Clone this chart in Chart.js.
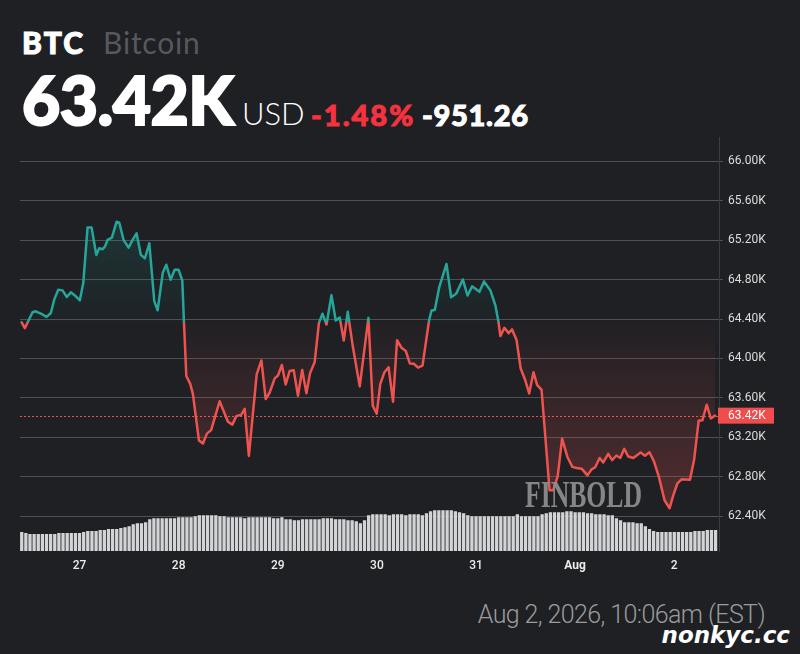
<!DOCTYPE html>
<html>
<head>
<meta charset="utf-8">
<script src="https://cdn.jsdelivr.net/npm/chart.js@4.4.1/dist/chart.umd.min.js"></script>
<style>
  html, body { margin: 0; padding: 0; background: #1e2024; }
  #page { position: relative; width: 800px; height: 654px; overflow: hidden; background: #1e2024; font-family: Lato, "Liberation Sans", sans-serif; }
  .t { position: absolute; line-height: 1; white-space: nowrap; }
  #sym { left: 22px; top: 27px; font-size: 30px; font-weight: 900; color: #ffffff; letter-spacing: 2px; -webkit-text-stroke: 1px #ffffff; }
  #name { left: 103px; top: 27px; font-size: 30px; font-weight: 400; color: #56585d; letter-spacing: 0.8px; }
  #price { left: 22px; top: 67px; font-size: 66px; font-weight: 900; color: #ffffff; letter-spacing: -0.5px; -webkit-text-stroke: 2px #ffffff; }
  #unit { left: 242px; top: 98px; font-size: 31px; font-weight: 300; color: #ffffff; }
  #chg { left: 311px; top: 100px; font-size: 29px; font-weight: 900; color: #f5323f; letter-spacing: 2px; -webkit-text-stroke: 1px #f5323f; }
  #abs { left: 422px; top: 100px; font-size: 29px; font-weight: 900; color: #ffffff; letter-spacing: 0.7px; -webkit-text-stroke: 1px #ffffff; }
  #chart-box { position: absolute; left: 0; top: 125px; width: 800px; height: 460px; }
  #finbold { left: 525px; top: 476px; font-family: "Liberation Serif", serif; font-size: 37px; font-weight: bold; color: rgba(140, 140, 140, 0.95); transform: scaleX(0.694); transform-origin: 0 0; }
  #stamp { right: 35px; top: 602px; font-family: Roboto, sans-serif; font-size: 25px; font-weight: 300; color: #9b9b9b; letter-spacing: -0.6px; }
  #site { right: 10px; top: 624px; font-family: "DejaVu Sans", sans-serif; font-size: 23px; font-weight: bold; font-style: italic; color: #ffffff; }
</style>
</head>
<body>
<div id="page">
  <div class="t" id="sym">BTC</div>
  <div class="t" id="name">Bitcoin</div>
  <div class="t" id="price">63.42K</div>
  <div class="t" id="unit">USD</div>
  <div class="t" id="chg">-1.48%</div>
  <div class="t" id="abs">-951.26</div>
  <div id="chart-box"><canvas id="btc-chart"></canvas></div>
  <div class="t" id="finbold">FINBOLD</div>
  <div class="t" id="stamp">Aug 2, 2026, 10:06am (EST)</div>
  <div class="t" id="site">nonkyc.cc</div>
</div>
<script>
"use strict";

// hours counted from Jul 27 00:00
var priceHours = [
  -14.05, -13.25, -12.43, -11.39, -10.59, -9.38, -8.0, -6.95, -6.13, -5.16,
  -4.12, -3.08, -2.11, -0.9, 0.07, 0.9, 1.94, 2.91, 4.05, 4.77,
  5.57, 6.13, 6.78, 7.83, 8.97, 9.62, 10.66, 11.87, 12.84, 13.81,
  14.85, 15.82, 16.89, 18.1, 18.9, 20.16, 21.01, 22.05, 23.02, 23.99,
  24.88, 25.27, 25.85, 26.82, 27.45, 28.91, 29.88, 30.84, 31.86, 33.92,
  35.93, 37.0, 37.97, 39.18, 39.98, 41.0, 42.89, 44.03, 45.07, 46.04,
  47.25, 48.05, 48.99, 49.91, 50.88, 51.85, 52.89, 53.91, 54.93, 55.8,
  56.94, 57.96, 58.81, 59.8, 60.99, 62.03, 63.0, 63.97, 64.94, 66.15,
  67.84, 69.95, 70.99, 71.96, 72.81, 73.78, 74.82, 75.91, 76.88, 77.95,
  78.99, 79.96, 80.93, 81.97, 83.04, 84.64, 85.22, 86.02, 87.11, 88.85,
  89.97, 91.18, 92.8, 93.94, 95.05, 96.82, 97.94, 99.47, 100.68, 101.41,
  101.89, 102.86, 103.9, 104.72, 105.81, 106.81, 107.83, 108.87, 109.91, 110.78,
  111.87, 113.81, 114.68, 115.77, 116.84, 118.12, 119.33, 120.35, 121.56, 122.97,
  123.99, 124.86, 125.92, 126.8, 128.01, 128.95, 129.99, 130.92, 131.89, 132.85,
  134.07, 135.86, 136.9, 137.99, 139.08, 140.24, 141.65, 142.86, 143.76, 144.77,
  145.74, 147.8, 148.82, 149.91, 150.83, 151.85, 152.84, 153.86
];

var priceValues = [
  64368, 64308, 64378, 64469, 64479, 64456, 64422, 64462, 64597, 64698,
  64691, 64624, 64671, 64631, 64590, 64765, 65330, 65330, 65051, 65118,
  65108, 65135, 65203, 65226, 65388, 65377, 65203, 65125, 65203, 65269,
  65051, 65017, 65169, 64580, 64489, 64873, 64951, 64799, 64900, 64900,
  64789, 64378, 63823, 63740, 63639, 63167, 63137, 63238, 63273, 63566,
  63359, 63329, 63415, 63430, 63490, 63011, 63839, 63980, 63588, 63655,
  63798, 63828, 63934, 63736, 63874, 63881, 63622, 63884, 63647, 63849,
  63965, 64361, 64454, 64345, 64641, 64386, 64416, 64182, 64474, 64126,
  63717, 64412, 63521, 63440, 63740, 63857, 63911, 63561, 64185, 64109,
  64076, 63950, 63947, 63907, 63927, 64388, 64487, 64492, 64727, 64959,
  64621, 64656, 64802, 64639, 64732, 64676, 64782, 64691, 64540, 64378,
  64227, 64311, 64257, 64295, 64187, 63899, 63790, 63645, 63861, 63733,
  63682, 62663, 62663, 62804, 63188, 63001, 62900, 62888, 62882, 62814,
  62875, 62897, 62991, 62945, 63033, 62969, 63016, 62991, 63084, 63006,
  62991, 63046, 63013, 63049, 62956, 62804, 62562, 62481, 62612, 62734,
  62774, 62771, 62976, 63369, 63374, 63531, 63392, 63420
];

// hourly volume bars, first bar at hour -14 (relative units)
var volumeStartHour = -14;
var volumeValues = [
  19, 18, 17, 17, 17, 17, 17, 17, 17, 18,
  18, 18, 18, 18, 18, 19, 20, 20, 20, 21,
  21, 22, 22, 22, 23, 24, 25, 27, 28, 28,
  29, 32, 33, 33, 33, 33, 33, 33, 34, 34,
  34, 34, 35, 36, 36, 36, 36, 36, 35, 35,
  34, 34, 34, 34, 33, 34, 34, 34, 34, 34,
  34, 33, 33, 34, 32, 32, 31, 31, 32, 32,
  32, 32, 32, 33, 33, 33, 32, 32, 32, 31,
  31, 30, 28, 31, 36, 37, 37, 37, 37, 36,
  37, 37, 37, 36, 37, 37, 37, 36, 38, 40,
  41, 41, 41, 41, 41, 40, 39, 38, 36, 35,
  35, 35, 35, 35, 35, 35, 35, 35, 35, 35,
  37, 35, 35, 35, 35, 35, 37, 38, 39, 39,
  39, 39, 40, 40, 39, 39, 39, 38, 38, 37,
  37, 37, 36, 36, 33, 31, 29, 29, 29, 28,
  28, 25, 22, 20, 19, 19, 19, 19, 19, 19,
  19, 19, 19, 20, 20, 20, 21, 21, 21
];

var dayTicks = [0, 24, 48, 72, 96, 120, 144];
var dayLabels = ["27", "28", "29", "30", "31", "Aug", "2"];
var priceTicks = [62400, 62800, 63200, 63600, 64000, 64400, 64800, 65200, 65600, 66000];

var PREV_CLOSE = 64371.26;
var LAST_PRICE = 63420;
var COLOR_UP = "#26a69a";
var COLOR_DOWN = "#ef5350";

function baselineStop(chart) {
  var area = chart.chartArea;
  var yScale = chart.scales.y;
  if (!area || !yScale) return null;
  var py = yScale.getPixelForValue(PREV_CLOSE);
  if (!isFinite(py)) return null;
  var stop = (py - area.top) / (area.bottom - area.top);
  return Math.min(1, Math.max(0, stop));
}

function strokeGradient(chart) {
  var stop = baselineStop(chart);
  if (stop === null) return COLOR_UP;
  var area = chart.chartArea;
  var g = chart.ctx.createLinearGradient(0, area.top, 0, area.bottom);
  g.addColorStop(0, COLOR_UP);
  g.addColorStop(stop, COLOR_UP);
  g.addColorStop(stop, COLOR_DOWN);
  g.addColorStop(1, COLOR_DOWN);
  return g;
}

function fillGradient(chart) {
  var stop = baselineStop(chart);
  if (stop === null) return "rgba(0,0,0,0)";
  var area = chart.chartArea;
  var g = chart.ctx.createLinearGradient(0, area.top, 0, area.bottom);
  g.addColorStop(0, "rgba(38,166,154,0.28)");
  g.addColorStop(stop, "rgba(38,166,154,0.02)");
  g.addColorStop(stop, "rgba(239,83,80,0.02)");
  g.addColorStop(1, "rgba(239,83,80,0.30)");
  return g;
}

// dotted last price line + red price tag on the axis
var lastPricePlugin = {
  id: "lastPrice",
  afterDatasetsDraw: function (chart) {
    var ctx = chart.ctx;
    var area = chart.chartArea;
    var py = Math.round(chart.scales.y.getPixelForValue(LAST_PRICE)) + 0.5;
    ctx.save();
    ctx.strokeStyle = COLOR_DOWN;
    ctx.lineWidth = 1;
    ctx.setLineDash([2, 2]);
    ctx.beginPath();
    ctx.moveTo(area.left, py);
    ctx.lineTo(area.right, py);
    ctx.stroke();
    ctx.restore();
  },
  afterDraw: function (chart) {
    var ctx = chart.ctx;
    var area = chart.chartArea;
    var py = chart.scales.y.getPixelForValue(LAST_PRICE);
    ctx.save();
    ctx.fillStyle = "#f04c4c";
    ctx.fillRect(area.right - 1, py - 8, 56, 16);
    ctx.fillStyle = "#ffffff";
    ctx.font = "12px Roboto";
    ctx.textBaseline = "middle";
    ctx.textAlign = "left";
    ctx.fillText((LAST_PRICE / 1000).toFixed(2) + "K", area.right + 9, py + 0.5);
    ctx.restore();
  },
};

$init();

function $init() {
  var ctx = document.getElementById("btc-chart").getContext("2d");

  var lineData = priceHours.map(function (h, i) {
    return { x: h, y: priceValues[i] };
  });
  var volData = volumeValues.map(function (v, i) {
    return { x: volumeStartHour + i, y: v };
  });

  new Chart(ctx, {
    type: "line",
    data: {
      datasets: [
        {
          type: "line",
          data: lineData,
          yAxisID: "y",
          borderWidth: 2.5,
          borderJoinStyle: "round",
          borderCapStyle: "round",
          pointRadius: 0,
          tension: 0,
          borderColor: function (c) { return strokeGradient(c.chart); },
          backgroundColor: function (c) { return fillGradient(c.chart); },
          fill: { target: { value: PREV_CLOSE } },
          order: 1,
        },
        {
          type: "bar",
          data: volData,
          yAxisID: "yv",
          backgroundColor: "#d3d4d6",
          barPercentage: 0.8,
          categoryPercentage: 1,
          order: 2,
        },
      ],
    },
    options: {
      responsive: true,
      maintainAspectRatio: false,
      animation: false,
      layout: { padding: { left: 20, top: 10, right: 0, bottom: 0 } },
      plugins: { legend: { display: false }, tooltip: { enabled: false } },
      events: [],
      scales: {
        x: {
          type: "linear",
          min: -14.42,
          max: 154.83,
          offset: false,
          grid: { display: false, drawTicks: false },
          border: { display: false },
          afterBuildTicks: function (axis) {
            axis.ticks = dayTicks.map(function (v) { return { value: v }; });
          },
          afterFit: function (axis) { axis.height = 34; },
          ticks: {
            color: "#ececec",
            padding: 8,
            maxRotation: 0,
            autoSkip: false,
            font: function (c) {
              return { family: "Roboto", size: 12, weight: c.index === 5 ? "bold" : "500" };
            },
            callback: function (v, i) { return dayLabels[i]; },
          },
        },
        y: {
          type: "linear",
          position: "right",
          min: 62047,
          max: 66245,
          afterBuildTicks: function (axis) {
            axis.ticks = priceTicks.map(function (v) { return { value: v }; });
          },
          afterFit: function (axis) { axis.width = 81; },
          grid: { color: "#4d5056", lineWidth: 1, tickLength: 4, drawTicks: true },
          border: { display: true, color: "#3a3d43" },
          ticks: {
            color: "#dcdcdc",
            padding: 5,
            font: { family: "Roboto", size: 12 },
            callback: function (v) { return (v / 1000).toFixed(2) + "K"; },
          },
        },
        yv: {
          type: "linear",
          display: false,
          min: 0,
          max: 416,
        },
      },
    },
    plugins: [lastPricePlugin],
  });
}
</script>
</body>
</html>
